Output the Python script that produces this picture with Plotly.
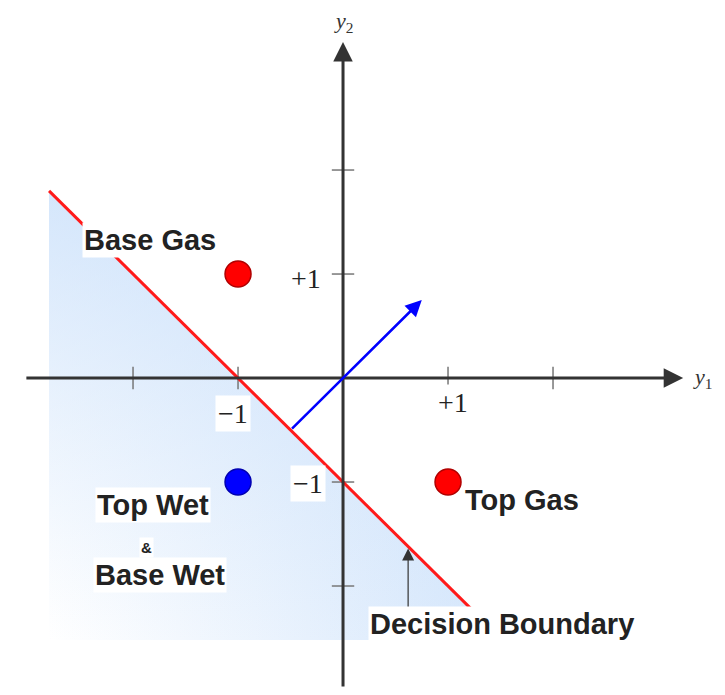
import plotly.graph_objects as go

# Class points (feature space y1, y2)
point_labels = ["Base Gas", "Top Wet & Base Wet", "Top Gas"]
point_x = [-1, -1, 1]
point_y = [1, -1, -1]
point_colors = ["#ff0000", "#0000ff", "#ff0000"]
point_edges = ["#b00000", "#0000b0", "#b00000"]

# Decision boundary y2 = -1 - y1
boundary_x = [-2.8, 1.22]
boundary_y = [1.8, -2.22]

# Shaded half-plane (wet side)
shade_x = [-2.8, -2.8, 1.52, -2.8]
shade_y = [1.8, -2.52, -2.52, 1.8]

# Weight vector
w_x = [-0.5, 0.75]
w_y = [-0.5, 0.75]

# Axis ticks
tick_vals = [-2, -1, 1, 2]
x_extent = [-3.03, 3.24]
y_extent = [-2.98, 3.23]

fig = go.Figure()

# gradient shading: horizontal + vertical overlays give a diagonal fade
for kind in ["horizontal", "vertical"]:
    fig.add_trace(go.Scatter(
        x=shade_x, y=shade_y, mode="lines", fill="toself",
        line=dict(width=0),
        fillgradient=dict(type=kind, colorscale=[[0, "rgba(195,220,250,0)"],
                                                 [1, "rgba(195,220,250,0.7)"]]),
        hoverinfo="skip", showlegend=False,
    ))

# tick marks
fig.add_trace(go.Scatter(
    x=tick_vals, y=[0] * len(tick_vals), mode="markers",
    marker=dict(symbol="line-ns", size=16, line=dict(width=1.5, color="#777")),
    hoverinfo="skip", showlegend=False,
))
fig.add_trace(go.Scatter(
    x=[0] * len(tick_vals), y=tick_vals, mode="markers",
    marker=dict(symbol="line-ew", size=16, line=dict(width=1.5, color="#777")),
    hoverinfo="skip", showlegend=False,
))

# decision boundary
fig.add_trace(go.Scatter(
    x=boundary_x, y=boundary_y, mode="lines",
    line=dict(color="#ff1a1a", width=3),
    hoverinfo="skip", showlegend=False,
))

# class points
fig.add_trace(go.Scatter(
    x=point_x, y=point_y, mode="markers", text=point_labels,
    marker=dict(size=26, color=point_colors, line=dict(width=1.5, color=point_edges)),
    hovertemplate="%{text}<extra></extra>", showlegend=False,
))

annotations = []

# axes with arrowheads
annotations.append(dict(x=x_extent[1], y=0, ax=x_extent[0], ay=0, xref="x", yref="y",
                        axref="x", ayref="y", text="", showarrow=True, arrowhead=2,
                        arrowsize=1.3, arrowwidth=3, arrowcolor="#333"))
annotations.append(dict(x=0, y=y_extent[1], ax=0, ay=y_extent[0], xref="x", yref="y",
                        axref="x", ayref="y", text="", showarrow=True, arrowhead=2,
                        arrowsize=1.3, arrowwidth=3, arrowcolor="#333"))

# weight vector
annotations.append(dict(x=w_x[1], y=w_y[1], ax=w_x[0], ay=w_y[0], xref="x", yref="y",
                        axref="x", ayref="y", text="", showarrow=True, arrowhead=2,
                        arrowsize=1.3, arrowwidth=2.5, arrowcolor="#0000ff"))

# decision boundary pointer
annotations.append(dict(x=0.62, y=-1.64, ax=0.62, ay=-2.24, xref="x", yref="y",
                        axref="x", ayref="y", text="", showarrow=True, arrowhead=2,
                        arrowsize=2, arrowwidth=1.2, arrowcolor="#333"))

serif = dict(family="Liberation Serif", size=28, color="#222")
sans = dict(family="Liberation Sans", size=29, color="#222")

# axis titles
annotations.append(dict(x=0, y=3.42, text="<i>y</i><sub>2</sub>", showarrow=False,
                        font=dict(family="Liberation Serif", size=22, color="#333")))
annotations.append(dict(x=3.42, y=0, text="<i>y</i><sub>1</sub>", showarrow=False,
                        font=dict(family="Liberation Serif", size=22, color="#333")))

# tick labels
tick_labels = [(-0.35, 0.96, "+1"), (-0.33, -1.01, "−1"), (-1.05, -0.34, "−1"), (1.05, -0.24, "+1")]
for tx, ty, tt in tick_labels:
    annotations.append(dict(x=tx, y=ty, text=tt, showarrow=False, font=serif,
                            bgcolor="white", borderpad=2))

# class labels
class_text = [(-1.84, 1.33, "<b>Base Gas</b>", sans),
              (-1.81, -1.22, "<b>Top Wet</b>", sans),
              (-1.87, -1.63, "<b>&</b>", dict(family="Liberation Sans", size=15, color="#222")),
              (-1.74, -1.89, "<b>Base Wet</b>", sans),
              (1.70, -1.17, "<b>Top Gas</b>", sans),
              (1.51, -2.37, "<b>Decision Boundary</b>", sans)]
for cx, cy, ct, cf in class_text:
    annotations.append(dict(x=cx, y=cy, text=ct, showarrow=False, font=cf,
                            bgcolor="white", borderpad=1))

fig.update_layout(
    width=725, height=695,
    margin=dict(l=0, r=0, t=0, b=0),
    paper_bgcolor="white", plot_bgcolor="white",
    xaxis=dict(range=[-3.267, 3.638], visible=False, fixedrange=True),
    yaxis=dict(range=[-3.048, 3.635], visible=False, fixedrange=True),
    annotations=annotations,
    showlegend=False,
)

# drop the default page margin so the figure sits at the window's corner
fig.write_html("out.html", config={"displayModeBar": False},
               post_script="document.body.style.margin='0';")
